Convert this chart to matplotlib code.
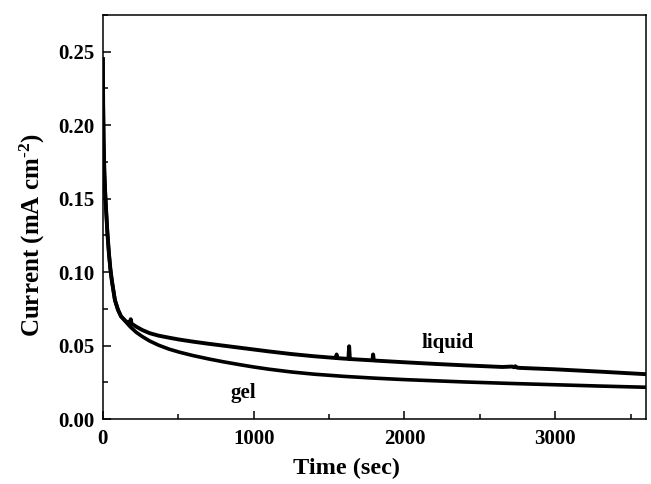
import matplotlib
matplotlib.use("Agg")
import matplotlib.pyplot as plt
from matplotlib.ticker import MultipleLocator, FormatStrFormatter

plt.rcParams['font.family'] = ['Liberation Serif', 'DejaVu Serif']
plt.rcParams['font.weight'] = 'bold'
plt.rcParams['mathtext.fontset'] = 'custom'
plt.rcParams['mathtext.rm'] = 'Liberation Serif:bold'
plt.rcParams['mathtext.bf'] = 'Liberation Serif:bold'
plt.rcParams['mathtext.it'] = 'Liberation Serif:bold'

# Data
t_gel = [0, 2, 5, 10, 15, 20, 30, 40, 50, 60, 80, 100, 120, 150, 180, 220, 260, 310,
         370, 440, 510, 600, 700, 800, 900, 1000, 1100, 1250, 1400, 1600, 1800, 2000,
         2200, 2400, 2700, 3000, 3300, 3600]
i_gel = [0.245, 0.215, 0.190, 0.168, 0.155, 0.145, 0.127, 0.113, 0.102, 0.094, 0.081,
         0.0745, 0.070, 0.0665, 0.0630, 0.0592, 0.0563, 0.0532, 0.0503, 0.0476, 0.0455,
         0.0432, 0.0410, 0.0390, 0.0372, 0.0355, 0.0340, 0.0321, 0.0306, 0.0291, 0.0279,
         0.0269, 0.0261, 0.0253, 0.0243, 0.0234, 0.0225, 0.0217]

t_liq = [0, 2, 5, 10, 15, 20, 30, 40, 50, 60, 80, 100, 120, 150, 170, 180, 185, 190,
         220, 260, 310, 370, 440, 510, 600, 700, 800, 900, 1000, 1100, 1250, 1400,
         1545, 1550, 1555, 1628, 1633, 1638, 1787, 1792, 1797, 2000, 2200, 2400, 2650,
         2715, 2725, 2735, 2745, 2760, 3000, 3300, 3600]
i_liq = [0.245, 0.215, 0.190, 0.168, 0.155, 0.145, 0.127, 0.113, 0.102, 0.094, 0.081,
         0.0745, 0.070, 0.0668, 0.0655, 0.0660, 0.0680, 0.0650, 0.0630, 0.0607, 0.0585,
         0.0568, 0.0554, 0.0541, 0.0527, 0.0513, 0.0500, 0.0487, 0.0474, 0.0461, 0.0443,
         0.0428, 0.0416, 0.0440, 0.0415, 0.0410, 0.0496, 0.0409, 0.0400, 0.0440, 0.0399,
         0.0387, 0.0376, 0.0366, 0.0355, 0.0358, 0.0353, 0.0360, 0.0351, 0.0349, 0.0339,
         0.0323, 0.0306]

fig = plt.figure(figsize=(6.51, 4.84), dpi=100)
ax = fig.add_axes([0.158, 0.134, 0.834, 0.835])

ax.plot(t_liq, i_liq, color='black', lw=2.8, solid_joinstyle='round')
ax.plot(t_gel, i_gel, color='black', lw=2.6, solid_joinstyle='round')

ax.set_xlim(0, 3600)
ax.set_ylim(0, 0.275)
ax.xaxis.set_major_locator(MultipleLocator(1000))
ax.xaxis.set_minor_locator(MultipleLocator(500))
ax.yaxis.set_major_locator(MultipleLocator(0.05))
ax.yaxis.set_minor_locator(MultipleLocator(0.025))
ax.yaxis.set_major_formatter(FormatStrFormatter('%.2f'))

ax.tick_params(which='both', direction='in', width=1.1)
ax.tick_params(which='major', length=6, labelsize=15)
ax.tick_params(axis='x', which='major', pad=7)
ax.tick_params(axis='y', which='major', pad=6)
ax.tick_params(which='minor', length=3.5)
for lab in ax.get_xticklabels() + ax.get_yticklabels():
    lab.set_fontweight('bold')
for s in ax.spines.values():
    s.set_linewidth(1.1)

ax.set_xlabel('Time (sec)', fontsize=17.5, fontweight='bold')
ax.set_ylabel('Current (mA cm$^{\\text{-}2}$)', fontsize=18, fontweight='bold')
ax.xaxis.set_label_coords(0.449, -0.097)
ax.yaxis.set_label_coords(-0.103, 0.455)

ax.text(2283, 0.0516, 'liquid', fontsize=15, fontweight='bold', ha='center', va='center')
ax.text(929, 0.0177, 'gel', fontsize=15, fontweight='bold', ha='center', va='center')

fig.savefig('out.png', dpi=100)
